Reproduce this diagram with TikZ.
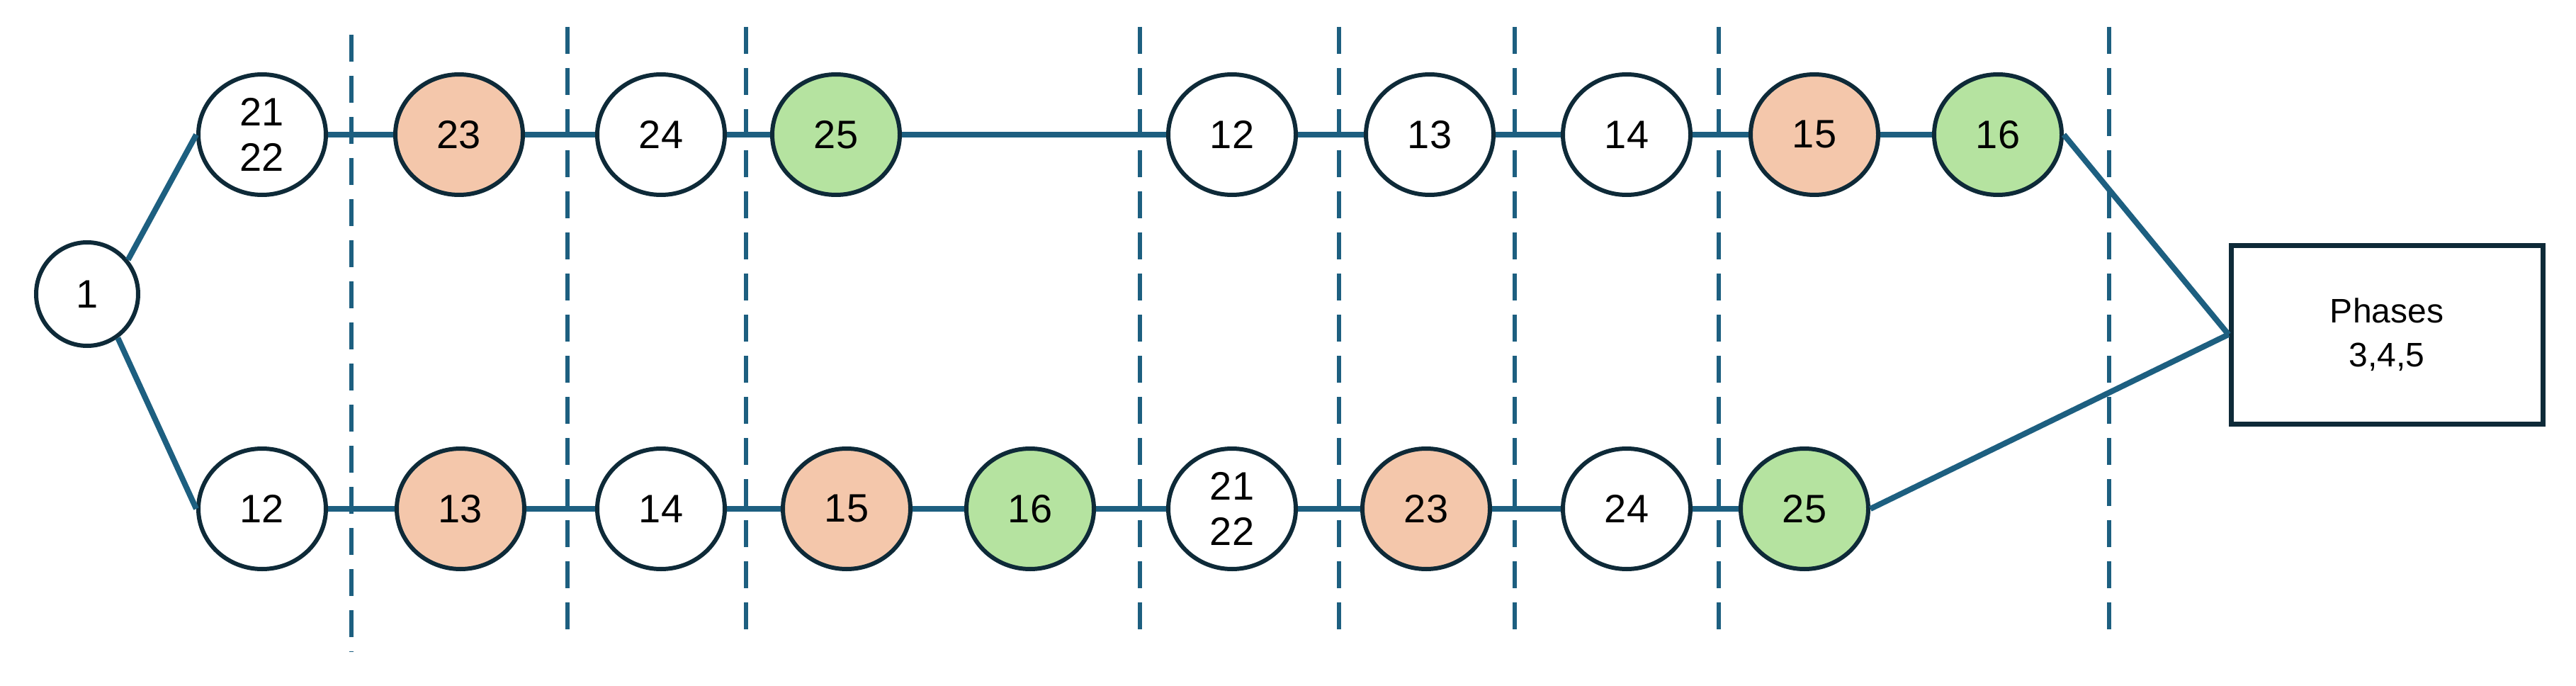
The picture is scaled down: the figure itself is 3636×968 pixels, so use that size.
\documentclass[tikz,border=0pt]{standalone}
\usepackage{fontspec}
\setmainfont{Liberation Sans}
\usetikzlibrary{shapes.geometric}
\definecolor{lineblue}{HTML}{1D5F80}
\definecolor{edge}{HTML}{0E2A38}
\definecolor{orng}{HTML}{F4C7AB}
\definecolor{grn}{HTML}{B5E3A0}
\begin{document}
\begin{tikzpicture}[x=1pt,y=-1pt,
  nd/.style={ellipse,draw=edge,line width=6pt,fill=white,minimum width=180pt,minimum height=170pt,inner sep=0pt,align=center,font=\fontsize{56}{68}\selectfont},
  o/.style={nd,fill=orng}, g/.style={nd,fill=grn},
  conn/.style={draw=lineblue,line width=8pt},
  sep/.style={draw=lineblue,line width=6pt,dash pattern=on 38pt off 20pt}]
\useasboundingbox (0,0) rectangle (3636,968);
\foreach \x/\a/\b in {496/49/920,801/38/907,1053/38/907,1609/38/907,1890/38/907,2138/38/907,2426/38/907,2977/38/907}
  \path[sep] (\x,\a) -- (\x,\b);
\node[nd,minimum width=144pt,minimum height=146pt] (n1) at (123,415) {1};
\node[nd] (t1) at (370,190) {21\\[-4pt]22};
\node[o] (t2) at (648,190) {23};
\node[nd] (t3) at (933,190) {24};
\node[g] (t4) at (1180,190) {25};
\node[nd] (t5) at (1739,190) {12};
\node[nd] (t6) at (2018,190) {13};
\node[nd] (t7) at (2296,190) {14};
\node[o] (t8) at (2561,190) {15};
\node[g] (t9) at (2820,190) {16};
\node[nd] (b1) at (370,718) {12};
\node[o] (b2) at (650,718) {13};
\node[nd] (b3) at (933,718) {14};
\node[o] (b4) at (1195,718) {15};
\node[g] (b5) at (1454,718) {16};
\node[nd] (b6) at (1739,718) {21\\[-4pt]22};
\node[o] (b7) at (2013,718) {23};
\node[nd] (b8) at (2296,718) {24};
\node[g] (b9) at (2547,718) {25};
\node[draw=edge,line width=7pt,minimum width=440pt,minimum height=252pt,align=center,font=\fontsize{48}{62}\selectfont] (ph) at (3369,472) {Phases\\3,4,5};
\begin{scope}[on background layer/.style={}]
\end{scope}
\path[conn] (n1.40) -- (t1.west);
\path[conn] (n1.-55) -- (b1.west);
\foreach \a/\b in {t1/t2,t2/t3,t3/t4,t4/t5,t5/t6,t6/t7,t7/t8,t8/t9,b1/b2,b2/b3,b3/b4,b4/b5,b5/b6,b6/b7,b7/b8,b8/b9}
  \path[conn] (\a.east) -- (\b.west);
\path[conn] (t9.east) -- (ph.west);
\path[conn] (b9.east) -- (ph.west);
\end{tikzpicture}
\end{document}
